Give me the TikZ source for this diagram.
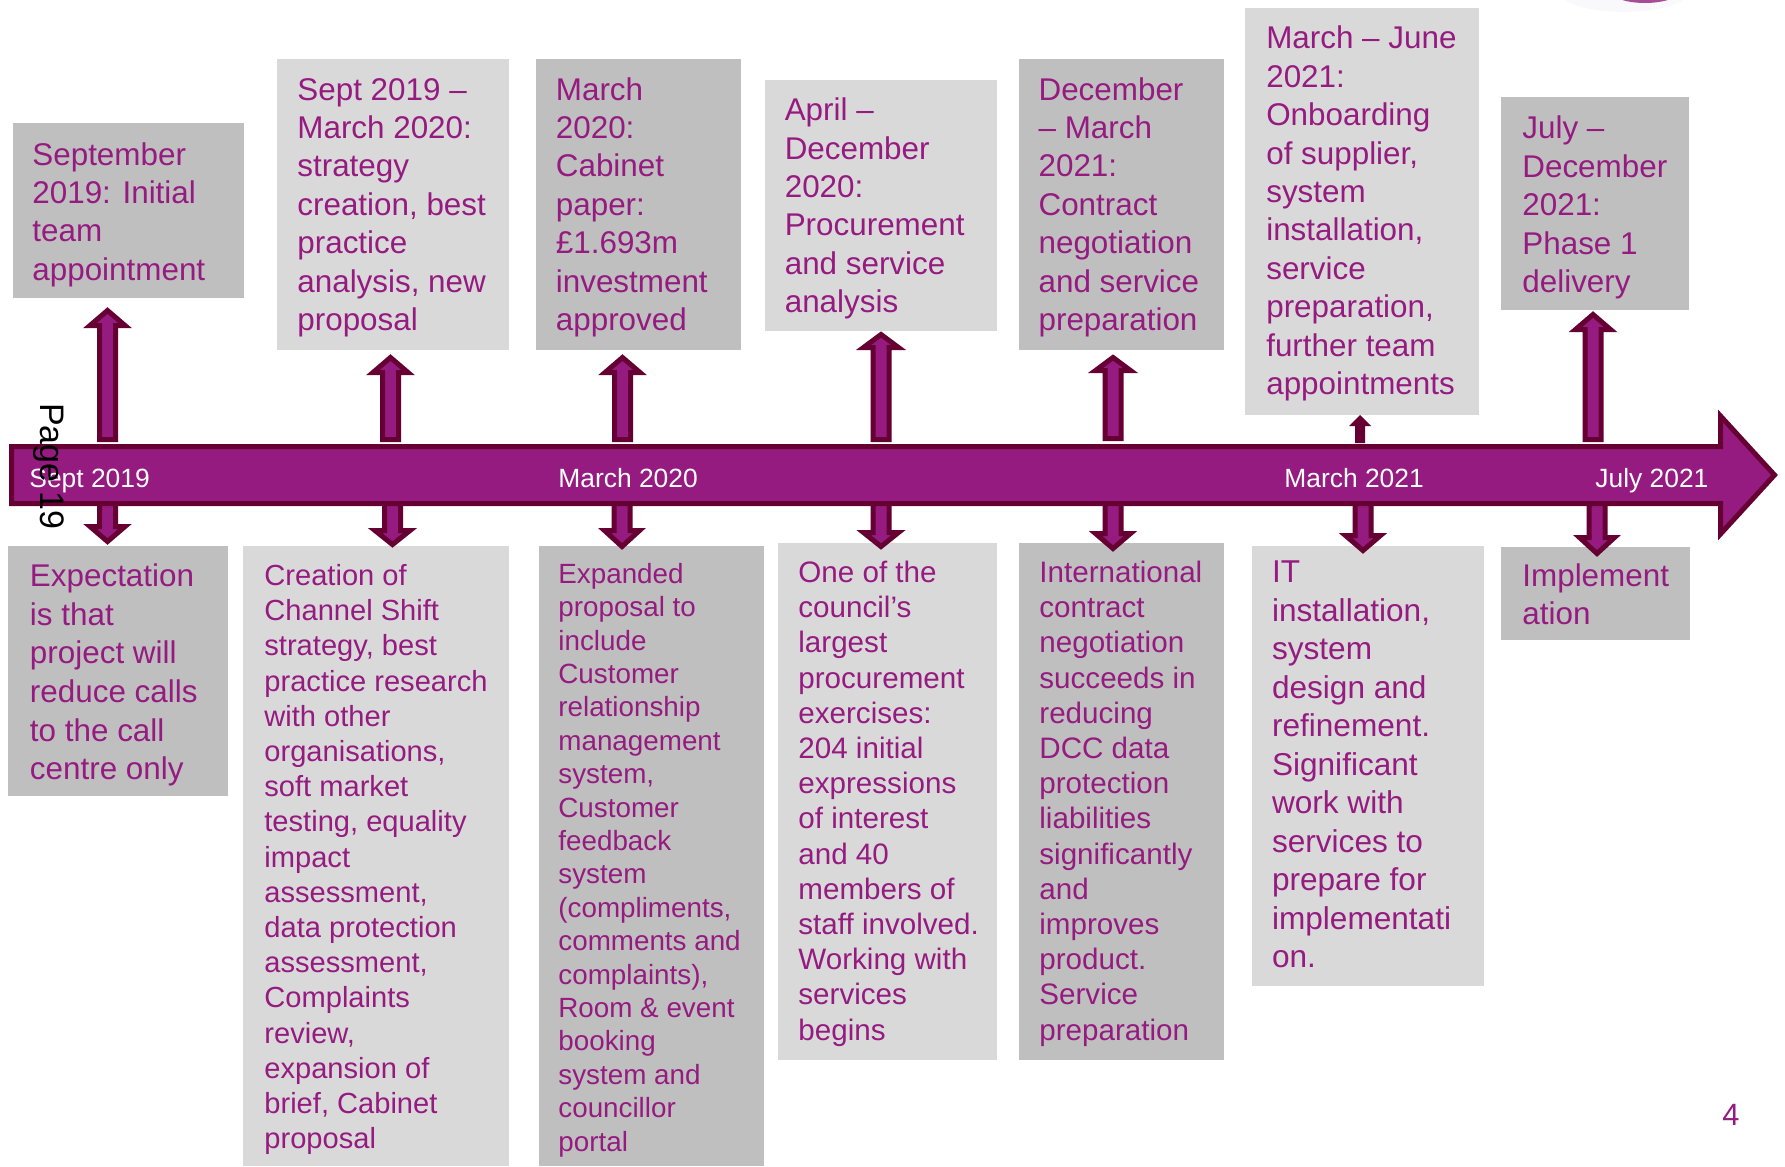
\documentclass[tikz,border=0pt]{standalone}
\usepackage{fontspec}
\setmainfont{Liberation Sans}
\usetikzlibrary{calc,fit}

\definecolor{plum}{HTML}{951B81}
\definecolor{maroon}{HTML}{660033}
\definecolor{greyD}{HTML}{BFBFBF}
\definecolor{greyL}{HTML}{D9D9D9}
\definecolor{haze}{HTML}{F9F8FA}
\definecolor{orb}{HTML}{A94C98}

\newcommand\fsz[2]{\fontsize{#1}{#2}\selectfont}

% block arrow pointing up: centre x, tip y, wing y, foot y (outer edges)
\newcommand\blkup[4]{%
  \draw[blk] ({#1-8},{#4-2.5}) -- ({#1-8},{#3-2.5}) -- ({#1-17.5},{#3-2.5})
    -- (#1,{#2+3.5}) -- ({#1+17.5},{#3-2.5}) -- ({#1+8},{#3-2.5})
    -- ({#1+8},{#4-2.5}) -- cycle;}
% block arrow pointing down from the timeline: centre x, wing y, tip y
\newcommand\blkdown[3]{%
  \draw[blk] ({#1-8},500) -- ({#1-8},{#2+2.5}) -- ({#1-17.5},{#2+2.5})
    -- (#1,{#3-3.5}) -- ({#1+17.5},{#2+2.5}) -- ({#1+8},{#2+2.5})
    -- ({#1+8},500) -- cycle;}

\tikzset{
  blk/.style={fill=plum, draw=maroon, line width=2.5pt, line join=miter},
  card/.style={inner sep=0pt, draw=none},
  dark/.style={card, fill=greyD},
  light/.style={card, fill=greyL},
  lbl/.style={text=plum, align=left, inner sep=0pt, anchor=north west},
  axislbl/.style={text=white, inner sep=0pt, anchor=base west, font=\fsz{13.2}{15.8}},
}

\begin{document}
\begin{tikzpicture}[x=0.5pt,y=-0.5pt]
\useasboundingbox (0,0) rectangle (1785,1167);
\clip (0,0) rectangle (1785,1167);

% logo fragment at the top edge
\fill[haze] (1624,-8) ellipse [x radius=64, y radius=20];
\fill[orb] (1645,-12) ellipse [x radius=38, y radius=15];

% ---------- upper cards ----------
\node[dark,  fit={(12.5,123) (243.6,298)}] (u1) {};
\node[light, fit={(276.6,59.2) (508.9,349.5)}] (u2) {};
\node[dark,  fit={(536.2,59.2) (741.1,349.5)}] (u3) {};
\node[light, fit={(765,79.7) (996.5,331.3)}] (u4) {};
\node[dark,  fit={(1018.9,59.2) (1223.8,349.5)}] (u5) {};
\node[light, fit={(1245.4,8) (1479,414.5)}] (u6) {};
\node[dark,  fit={(1501,97) (1689,309.6)}] (u7) {};

% ---------- lower cards ----------
\node[dark,  fit={(8,546) (227.7,795.7)}] (l1) {};
\node[light, fit={(242.5,546) (508.9,1165.7)}] (l2) {};
\node[dark,  fit={(538.5,546) (763.9,1165.7)}] (l3) {};
\node[light, fit={(777.5,543) (996.5,1059.9)}] (l4) {};
\node[dark,  fit={(1018.9,543) (1223.8,1059.9)}] (l5) {};
\node[light, fit={(1252,546) (1484,985.9)}] (l6) {};
\node[dark,  fit={(1501,547) (1690,639.8)}] (l7) {};

% ---------- upper texts ----------
\node[lbl, font=\fsz{15.7}{19.2}] (u1t) at (32,137.8)
  {\strut September\\2019: Initial\\team\\appointment};
\node[lbl, font=\fsz{15.7}{19.2}] (u2t) at (297,72.9)
  {\strut Sept 2019 –\\March 2020:\\strategy\\creation, best\\practice\\analysis, new\\proposal};
\node[lbl, font=\fsz{15.7}{19.2}] (u3t) at (555.5,72.9)
  {\strut March\\2020:\\Cabinet\\paper:\\£1.693m\\investment\\approved};
\node[lbl, font=\fsz{15.7}{19.2}] (u4t) at (784.4,93.4)
  {\strut April –\\December\\2020:\\Procurement\\and service\\analysis};
\node[lbl, font=\fsz{15.7}{19.2}] (u5t) at (1038.2,72.9)
  {\strut December\\– March\\2021:\\Contract\\negotiation\\and service\\preparation};
\node[lbl, font=\fsz{15.7}{19.2}] (u6t) at (1265.9,21.7)
  {\strut March – June\\2021:\\Onboarding\\of supplier,\\system\\installation,\\service\\preparation,\\further team\\appointments};
\node[lbl, font=\fsz{15.7}{19.2}] (u7t) at (1522,111.6)
  {\strut July –\\December\\2021:\\Phase 1\\delivery};

% ---------- lower texts ----------
\node[lbl, font=\fsz{15.7}{19.35}] (l1t) at (29.6,558.9)
  {\strut Expectation\\is that\\project will\\reduce calls\\to the call\\centre only};
\node[lbl, font=\fsz{14.55}{17.6}] (l2t) at (264,560.4)
  {\strut Creation of\\Channel Shift\\strategy, best\\practice research\\with other\\organisations,\\soft market\\testing, equality\\impact\\assessment,\\data protection\\assessment,\\Complaints\\review,\\expansion of\\brief, Cabinet\\proposal};
\node[lbl, font=\fsz{13.9}{16.7}] (l3t) at (558,559.6)
  {\strut Expanded\\proposal to\\include\\Customer\\relationship\\management\\system,\\Customer\\feedback\\system\\(compliments,\\comments and\\complaints),\\Room \& event\\booking\\system and\\councillor\\portal};
\node[lbl, font=\fsz{14.8}{17.6}] (l4t) at (798,557.4)
  {\strut One of the\\council’s\\largest\\procurement\\exercises:\\204 initial\\expressions\\of interest\\and 40\\members of\\staff involved.\\Working with\\services\\begins};
\node[lbl, font=\fsz{14.8}{17.6}] (l5t) at (1039,557.4)
  {\strut International\\contract\\negotiation\\succeeds in\\reducing\\DCC data\\protection\\liabilities\\significantly\\and\\improves\\product.\\Service\\preparation};
\node[lbl, font=\fsz{15.8}{19.25}] (l6t) at (1271.6,555.5)
  {\strut IT\\installation,\\system\\design and\\refinement.\\Significant\\work with\\services to\\prepare for\\implementati\\on.};
\node[lbl, font=\fsz{15.7}{18.8}] (l7t) at (1522,559.7)
  {\strut Implement\\ation};

% ---------- arrows down to the lower cards ----------
\blkdown{107.5}{524}{545}
\blkdown{392.5}{528}{548}
\blkdown{622}{528}{550}
\blkdown{881}{530}{550}
\blkdown{1113}{531}{552}
\blkdown{1363}{533}{554}
\blkdown{1597}{535}{557}

% ---------- timeline ----------
\draw[blk] (11.5,446.5) -- (1720.5,446.5) -- (1720.5,416) -- (1774.5,475)
  -- (1720.5,534) -- (1720.5,503.5) -- (11.5,503.5) -- cycle;

% ---------- arrows up to the upper cards ----------
\blkup{107.5}{307}{328}{442}
\blkup{390.5}{354}{375}{442}
\blkup{622.5}{354}{375}{442}
\blkup{881}{331}{350}{442}
\blkup{1113}{354}{373}{441}
\fill[maroon] (1355,443) -- (1355,426) -- (1349,426) -- (1360,415)
  -- (1371,426) -- (1365,426) -- (1365,443) -- cycle;
\blkup{1593}{311}{332}{442}

% ---------- timeline labels ----------
\node[axislbl] (d1) at (29,487) {Sept 2019};
\node[axislbl] (d2) at (558,487) {March 2020};
\node[axislbl] (d3) at (1284,487) {March 2021};
\node[axislbl] (d4) at (1595,487) {July 2021};

% page stamp and slide number
\node[inner sep=0pt, rotate=-90, font=\fsz{17}{20}, text=black] (pg) at (48.5,466.5) {Page 19};
\node[inner sep=0pt, anchor=base west, font=\fsz{15.4}{18}, text=plum] (num) at (1722,1125) {4};
\end{tikzpicture}
\end{document}
